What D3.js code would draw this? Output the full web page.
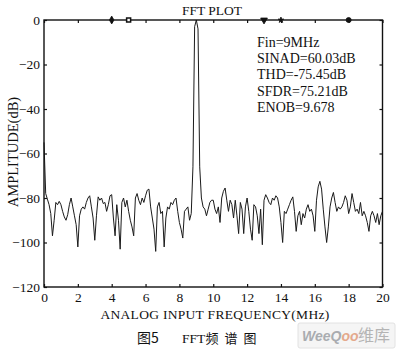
<!DOCTYPE html>
<html>
<head>
<meta charset="utf-8">
<script src="https://cdn.jsdelivr.net/npm/d3@7"></script>
<style>
body{margin:0;background:#fff;}
</style>
</head>
<body>
<script>
// fft bins are 0.1 MHz apart, bin 0 = DC, bin 200 = 20 MHz
const binWidth = 0.1
const amplitude = [
  -55, -78, -80.5, -83, -87, -97, -90, -82, -83, -81.5,
  -83, -86, -88.5, -90, -87.5, -83, -80, -84, -88, -92,
  -102, -88, -85, -84, -85, -82, -80, -79, -84, -89,
  -99, -88, -79.5, -81, -80, -82.5, -82, -86, -83, -79,
  -78.5, -89, -97, -83, -90, -103, -82, -80, -84, -81,
  -86, -90, -93, -97, -80, -78, -81, -83, -80, -82,
  -79, -76.5, -76, -84, -89, -94, -104, -84, -82, -87,
  -86, -102, -89, -84, -85, -82, -83, -81, -80, -86,
  -91, -94, -98, -86, -85, -84, -90, -87, -66, -3,
  0, -4, -66, -80, -84, -85, -88, -85, -82, -81,
  -81, -85, -87, -84, -91, -80, -77, -75.5, -81, -86,
  -81, -83, -89, -81, -88, -96, -82, -85, -96, -84,
  -80, -86, -94, -99, -83, -84, -88, -96, -85, -101,
  -81, -78.5, -80, -82, -83, -80, -81, -79, -80, -84,
  -91, -100, -86, -87, -85, -83, -81, -79.5, -86, -95,
  -88, -86, -92, -87, -89, -85, -83, -86, -85, -88,
  -95, -81, -75, -72.5, -76, -85, -93, -100, -93, -84,
  -80, -77.5, -82, -86, -84, -85, -84, -82, -79, -81,
  -87, -84, -78, -82, -86, -85, -87, -82, -88, -86,
  -88, -91, -95, -88, -86, -88, -91, -87, -92, -88,
  -86
]
const xTicks = [0, 2, 4, 6, 8, 10, 12, 14, 16, 18, 20]
const yTicks = [0, -20, -40, -60, -80, -100, -120]
// harmonic markers drawn on the 0 dB line (fs = 40 MSPS aliasing)
const harmonicFreqs = [4, 5, 13, 14, 18]
const harmonicShapes = ['diamond', 'square', 'triangle', 'star', 'circle']
const statLines = ['Fin=9MHz', 'SINAD=60.03dB', 'THD=-75.45dB', 'SFDR=75.21dB', 'ENOB=9.678']

const W = 403, H = 352
const plot = {left: 44, right: 382.5, top: 20, bottom: 287}
const serif = '"Liberation Serif", "Times New Roman", serif'
const cjk = '"Noto Sans CJK SC", sans-serif'
const ink = '#111'

const svg = d3.select('body').append('svg')
    .attr('width', W)
    .attr('height', H)

svg.append('rect').attr('width', W).attr('height', H).attr('fill', '#fff')

const x = d3.scaleLinear().domain([0, 20]).range([plot.left, plot.right])
const y = d3.scaleLinear().domain([-120, 0]).range([plot.bottom, plot.top])

// the axes, ticks pointing inwards like matlab
const gx = svg.append('g')
    .attr('transform', `translate(0,${plot.bottom})`)
    .call(d3.axisBottom(x).tickValues(xTicks).tickSizeInner(-3).tickSizeOuter(0).tickPadding(5))
const gy = svg.append('g')
    .attr('transform', `translate(${plot.left},0)`)
    .call(d3.axisLeft(y).tickValues(yTicks).tickSizeInner(-3).tickSizeOuter(0).tickPadding(4))
const gt = svg.append('g')
    .attr('transform', `translate(0,${plot.top})`)
    .call(d3.axisTop(x).tickValues(xTicks).tickSizeInner(-3).tickSizeOuter(0).tickFormat(''))
const gr = svg.append('g')
    .attr('transform', `translate(${plot.right},0)`)
    .call(d3.axisRight(y).tickValues(yTicks).tickSizeInner(-3).tickSizeOuter(0).tickFormat(''))

;[gx, gy, gt, gr].forEach(g => {
    g.select('.domain').remove()
    g.selectAll('line').attr('stroke', ink).attr('stroke-width', 1.2)
    g.selectAll('text')
        .attr('font-family', serif)
        .attr('font-size', 13.5)
        .attr('fill', ink)
})

// spectrum trace
const line = d3.line()
    .x((d, i) => x(i * binWidth))
    .y(d => y(d))

svg.append('path')
    .datum(amplitude)
    .attr('d', line)
    .attr('fill', 'none')
    .attr('stroke', '#1a1a1a')
    .attr('stroke-width', 1)
    .attr('stroke-linejoin', 'round')

// frame
svg.append('rect')
    .attr('x', plot.left)
    .attr('y', plot.top)
    .attr('width', plot.right - plot.left)
    .attr('height', plot.bottom - plot.top)
    .attr('fill', 'none')
    .attr('stroke', ink)
    .attr('stroke-width', 1.4)

// harmonic markers
const symbolOf = {
    diamond: d3.symbolDiamond,
    square: d3.symbolSquare,
    triangle: d3.symbolTriangle,
    star: d3.symbolStar,
    circle: d3.symbolCircle
}
const symbolSize = {diamond: 18, square: 16, triangle: 20, star: 10, circle: 20}
harmonicFreqs.forEach((f, i) => {
    const s = harmonicShapes[i]
    svg.append('path')
        .attr('d', d3.symbol().type(symbolOf[s]).size(symbolSize[s])())
        .attr('transform', `translate(${x(f)},${y(0)})` + (s == 'triangle' ? ' rotate(180)' : ''))
        .attr('fill', s == 'square' ? '#fff' : ink)
        .attr('stroke', ink)
        .attr('stroke-width', s == 'square' ? 1.5 : 0.8)
})

// title
svg.append('text')
    .attr('x', 212)
    .attr('y', 15)
    .attr('text-anchor', 'middle')
    .attr('font-family', serif)
    .attr('font-size', 13.5)
    .attr('fill', ink)
    .text('FFT PLOT')

// stats text
svg.append('g').selectAll('text')
    .data(statLines)
    .join('text')
    .attr('x', 257)
    .attr('y', (d, i) => 46.5 + i * 16.4)
    .attr('font-family', serif)
    .attr('font-size', 14)
    .attr('fill', ink)
    .text(d => d)

// axis labels
svg.append('text')
    .attr('x', 215)
    .attr('y', 319)
    .attr('text-anchor', 'middle')
    .attr('font-family', serif)
    .attr('font-size', 13.5)
    .attr('letter-spacing', 0.3)
    .attr('fill', ink)
    .text('ANALOG INPUT FREQUENCY(MHz)')

svg.append('text')
    .attr('transform', 'translate(18,152) rotate(-90)')
    .attr('text-anchor', 'middle')
    .attr('font-family', serif)
    .attr('font-size', 14.5)
    .attr('fill', ink)
    .text('AMPLITUDE(dB)')

// figure caption
const cap = svg.append('g').attr('fill', ink)
cap.append('text').attr('x', 137).attr('y', 343)
    .attr('font-family', cjk).attr('font-size', 14)
    .text('图5')
cap.append('text').attr('x', 182).attr('y', 343)
    .attr('font-family', serif).attr('font-size', 13.5)
    .text('FFT')
cap.append('text').attr('x', 205.5).attr('y', 343)
    .attr('font-family', cjk).attr('font-size', 13)
    .attr('letter-spacing', 6)
    .text('频谱图')

// watermark
const wm = svg.append('g')
wm.append('rect')
    .attr('x', 298).attr('y', 323).attr('width', 97).attr('height', 25).attr('rx', 2)
    .attr('fill', '#f5f5f5').attr('stroke', '#e2e2e2')
const wmText = wm.append('text').attr('x', 302).attr('y', 341)
    .attr('font-family', '"Liberation Sans", sans-serif')
    .attr('font-style', 'italic')
    .attr('font-weight', 'bold')
    .attr('font-size', 14)
wmText.append('tspan').attr('fill', '#a9acb0').text('WeeQ')
wmText.append('tspan').attr('fill', '#e4a98c').text('oo')
wm.append('text').attr('x', 358).attr('y', 341)
    .attr('font-family', cjk)
    .attr('font-size', 16)
    .attr('fill', '#b4b4b4')
    .text('维库')
</script>
</body>
</html>
